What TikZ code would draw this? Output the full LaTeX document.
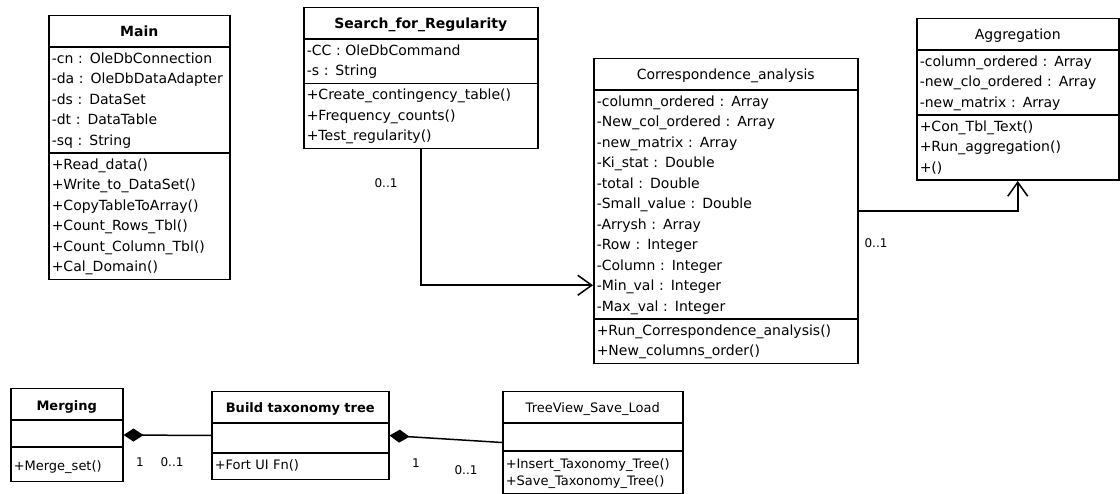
\documentclass[tikz,border=0pt]{standalone}
\usepackage{fontspec}
\setmainfont{DejaVu Sans}
\usetikzlibrary{shapes.multipart,arrows.meta}
\tikzset{
  umlclass/.style={draw, line width=1.5pt, rectangle split, rectangle split parts=3,
    anchor=north west, inner xsep=3pt, inner ysep=1pt, align=left,
    font=\fontsize{14}{20.5}\selectfont},
  lowclass/.style={umlclass, font=\fontsize{13}{17}\selectfont},
  assoc/.style={line width=1.5pt, -{Straight Barb[length=14pt,width=20pt]}},
  compo/.style={line width=1.5pt, {Diamond[length=20pt,width=13pt]}-},
  mult/.style={font=\fontsize{12}{14}\selectfont, inner sep=1pt}
}
\newcommand{\ttl}[1]{\null\hfill\rule[-8.5pt]{0pt}{28pt}#1\hfill\null}
\begin{document}
\begin{tikzpicture}[x=1pt,y=-1pt]
    \useasboundingbox (0,0) rectangle (1120,494);
    \node[umlclass, text width=175pt] (main) at (48,15) {\ttl{\textbf{Main}}
      \nodepart{second}\strut -cn : OleDbConnection\\-da : OleDbDataAdapter\\-ds : DataSet\\-dt : DataTable\\-sq : String\strut
      \nodepart{third}\strut +Read\_data()\\+Write\_to\_DataSet()\\+CopyTableToArray()\\+Count\_Rows\_Tbl()\\+Count\_Column\_Tbl()\\+Cal\_Domain()\strut};
    \node[umlclass, text width=228pt] (search) at (303,7) {\ttl{\textbf{Search\_for\_Regularity}}
      \nodepart{second}\strut -CC : OleDbCommand\\-s : String\strut
      \nodepart{third}\strut +Create\_contingency\_table()\\+Frequency\_counts()\\+Test\_regularity()\strut};
    \node[umlclass, text width=258pt] (corr) at (593,58) {\ttl{Correspondence\_analysis}
      \nodepart{second}\strut -column\_ordered : Array\\-New\_col\_ordered : Array\\-new\_matrix : Array\\-Ki\_stat : Double\\-total : Double\\-Small\_value : Double\\-Arrysh : Array\\-Row : Integer\\-Column : Integer\\-Min\_val : Integer\\-Max\_val : Integer\strut
      \nodepart{third}\strut +Run\_Correspondence\_analysis()\\+New\_columns\_order()\strut};
    \node[umlclass, text width=196pt] (agg) at (916,18) {\ttl{Aggregation}
      \nodepart{second}\strut -column\_ordered : Array\\-new\_clo\_ordered : Array\\-new\_matrix : Array\strut
      \nodepart{third}\strut +Con\_Tbl\_Text()\\+Run\_aggregation()\\+()\strut};
    \node[lowclass, text width=106pt] (merging) at (10,388) {\ttl{\textbf{Merging}}
      \nodepart{second}\rule{0pt}{23pt}
      \nodepart{third}\rule[-9pt]{0pt}{31pt}+Merge\_set()};
    \node[lowclass, text width=171pt] (build) at (211,391) {\ttl{\textbf{Build taxonomy tree}}
      \nodepart{second}\rule{0pt}{26pt}
      \nodepart{third}\rule[-8pt]{0pt}{23pt}+Fort UI Fn()};
    \node[lowclass, text width=174pt] (tree) at (502,391) {\ttl{TreeView\_Save\_Load}
      \nodepart{second}\rule{0pt}{24pt}
      \nodepart{third}\rule{0pt}{16pt}+Insert\_Taxonomy\_Tree()\\+Save\_Taxonomy\_Tree()\rule[-6pt]{0pt}{6pt}};
    \draw[assoc] (search.south) |- ([yshift=-74pt]corr.west);
    \draw[assoc] (corr.east) -| (agg.south);
    \draw[compo] (merging.east) -- (build.west);
    \draw[compo] (build.east) -- (tree.west);
    \node[mult] (m1) at (386,183) {0..1};
    \node[mult] (m2) at (876,243) {0..1};
    \node[mult] (m3) at (140,462) {1};
    \node[mult] (m4) at (172,462) {0..1};
    \node[mult] (m5) at (416,463) {1};
    \node[mult] (m6) at (466,470) {0..1};
\end{tikzpicture}
\end{document}
